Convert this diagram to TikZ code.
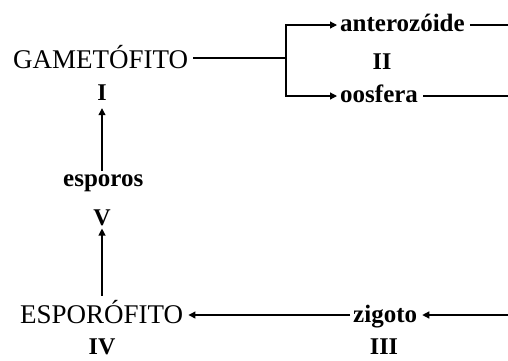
\documentclass[tikz,border=0pt]{standalone}
\usepackage{fontspec}
\setmainfont{Liberation Serif}
\usetikzlibrary{arrows.meta}
\begin{document}
\begin{tikzpicture}[x=1pt,y=-1pt,
  big/.style={font=\fontsize{27}{27}\selectfont, inner sep=0pt, anchor=base west},
  lbl/.style={font=\fontsize{25}{25}\selectfont\bfseries, inner sep=0pt, anchor=base west},
  num/.style={font=\fontsize{24}{24}\selectfont\bfseries, inner sep=0pt, anchor=base},
  link/.style={line width=1.2pt},
  arr/.style={link, -{Triangle[length=7pt,width=7pt]}}]
\useasboundingbox (0,0) rectangle (508,360);

% stages of the cycle
\node[big] (gam) at (13,68) {GAMETÓFITO};
\node[num] (n1) at (102,100) {I};
\node[lbl] (esp) at (63,186) {esporos};
\node[num] (n5) at (102,225) {V};
\node[big] (spo) at (20,323) {ESPORÓFITO};
\node[num] (n4) at (102,354) {IV};
\node[lbl] (zig) at (353,322) {zigoto};
\node[num] (n3) at (384,354) {III};
\node[lbl] (ant) at (340,31) {anterozóide};
\node[num] (n2) at (382,69) {II};
\node[lbl] (oos) at (340,102) {oosfera};

% free ends at the right border
\coordinate (fork) at (286,58);
\coordinate (antout) at (508,25);
\coordinate (oosout) at (508,96);
\coordinate (zin) at (508,315);

% gametophyte splits into the two gametes
\draw[link] ([xshift=5pt]gam.east |- fork) -- (fork);
\draw[arr] (fork) |- ([xshift=-3pt]ant.west |- antout);
\draw[arr] (fork) |- ([xshift=-3pt]oos.west |- oosout);
\draw[link] ([xshift=5pt]ant.east |- antout) -- (antout);
\draw[link] ([xshift=5pt]oos.east |- oosout) -- (oosout);

% fertilisation and sporophyte
\draw[arr] (zin) -- ([xshift=5pt]zig.east |- zin);
\draw[arr] ([xshift=-3pt]zig.west |- zin) -- ([xshift=5pt]spo.east |- zin);

% spores back to the gametophyte
\draw[arr] ([yshift=4pt]spo.north -| n5) -- ([yshift=-3pt]n5.south);
\draw[arr] ([yshift=3pt]esp.north -| n1) -- ([yshift=-8pt]n1.south);
\end{tikzpicture}
\end{document}
